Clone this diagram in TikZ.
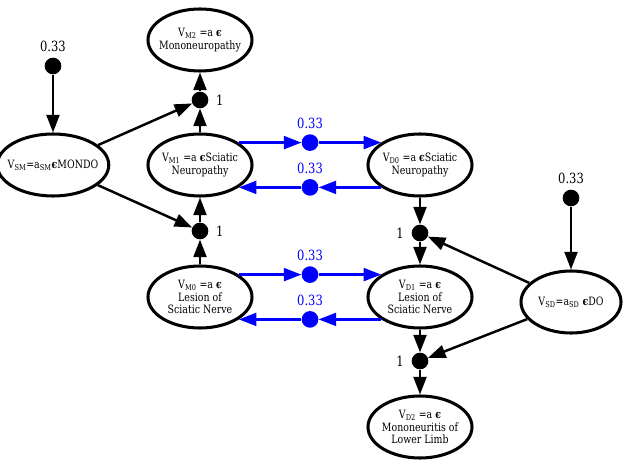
\documentclass[tikz,border=0pt]{standalone}
\usepackage{fontspec}
\setmainfont{DejaVu Serif}[FakeStretch=0.82]
\usetikzlibrary{shapes.geometric,arrows.meta,positioning,calc}
\newcommand{\inset}{{\bfseries ϵ}}
\begin{document}
\begin{tikzpicture}[x=0.03cm, y=-0.03cm,
    var/.style={ellipse, draw, line width=2.6pt, minimum width=3.12cm,
        minimum height=1.86cm, inner xsep=-5pt, inner ysep=0pt, align=center,
        font=\fontsize{9.8}{11}\selectfont},
    dot/.style={circle, fill=black, inner sep=0pt, minimum size=0.5cm},
    bdot/.style={dot, fill=blue},
    arr/.style={line width=2.1pt, -{Triangle[length=15pt, width=11pt]}},
    barr/.style={arr, blue},
    num/.style={font=\fontsize{12}{14}\selectfont},
    bnum/.style={num, text=blue}]

% --- Cadre ---
\useasboundingbox (0,0) rectangle (629,461);

% --- Variables M ---
\node[var] (M2) at (200,40)  {V\textsubscript{M2} =a \inset\\Mononeuropathy};
\node[var] (M1) at (200,165) {V\textsubscript{M1} =a \inset Sciatic\\Neuropathy};
\node[var] (M0) at (200,297) {V\textsubscript{M0} =a \inset\\Lesion of\\Sciatic Nerve};
\node[var, minimum width=3.0cm] (SM) at (53,165) {V\textsubscript{SM}=a\textsubscript{SM}\inset MONDO};

% --- Variables D ---
\node[var] (D0) at (420,165) {V\textsubscript{D0} =a \inset Sciatic\\Neuropathy};
\node[var] (D1) at (420,297) {V\textsubscript{D1} =a \inset\\Lesion of\\Sciatic Nerve};
\node[var] (D2) at (420,427) {V\textsubscript{D2} =a \inset\\Mononeuritis of\\Lower Limb};
\node[var, minimum width=3.0cm] (SD) at (571,302) {V\textsubscript{SD}=a\textsubscript{SD} \inset DO};

% --- Jonctions ---
\node[dot] (jM2) at (200,100) {};
\node[dot] (jM1) at (200,231) {};
\node[dot] (jD1) at (420,233) {};
\node[dot] (jD2) at (420,361) {};
\node[num, right=3pt of jM2] (nM2) {1};
\node[num, right=3pt of jM1] (nM1) {1};
\node[num, left=3pt of jD1]  (nD1) {1};
\node[num, left=3pt of jD2]  (nD2) {1};

% --- Sources 0.33 ---
\node[dot] (sSM) at (53,66) {};
\node[num, above=1pt of sSM] (pSM) {0.33};
\node[dot] (sSD) at (571,198) {};
\node[num, above=1pt of sSD] (pSD) {0.33};

% --- Transitions (bleu) ---
\node[bdot] (tM1) at ($(M1.30)!0.5!(D0.150)$)   {};
\node[bdot] (tD0) at ($(M1.330)!0.5!(D0.210)$)  {};
\node[bdot] (tM0) at ($(M0.30)!0.5!(D1.150)$)   {};
\node[bdot] (tD1) at ($(M0.330)!0.5!(D1.210)$)  {};
\node[bnum, above=1pt of tM1] (qM1) {0.33};
\node[bnum, above=1pt of tD0] (qD0) {0.33};
\node[bnum, above=1pt of tM0] (qM0) {0.33};
\node[bnum, above=1pt of tD1] (qD1) {0.33};

% --- Arcs ---
\draw[arr] (sSM) -- (SM);
\draw[arr] (SM) -- (jM2);
\draw[arr] (M1) -- (jM2);
\draw[arr] (jM2) -- (M2);
\draw[arr] (SM) -- (jM1);
\draw[arr] (M0) -- (jM1);
\draw[arr] (jM1) -- (M1);
\draw[arr] (D0) -- (jD1);
\draw[arr] (SD) -- (jD1);
\draw[arr] (jD1) -- (D1);
\draw[arr] (D1) -- (jD2);
\draw[arr] (SD) -- (jD2);
\draw[arr] (jD2) -- (D2);
\draw[arr] (sSD) -- (SD);

% --- Arcs bleus ---
\draw[barr] (M1.30) -- (tM1);
\draw[barr] (tM1) -- (D0.150);
\draw[barr] (D0.210) -- (tD0);
\draw[barr] (tD0) -- (M1.330);
\draw[barr] (M0.30) -- (tM0);
\draw[barr] (tM0) -- (D1.150);
\draw[barr] (D1.210) -- (tD1);
\draw[barr] (tD1) -- (M0.330);

\end{tikzpicture}
\end{document}
